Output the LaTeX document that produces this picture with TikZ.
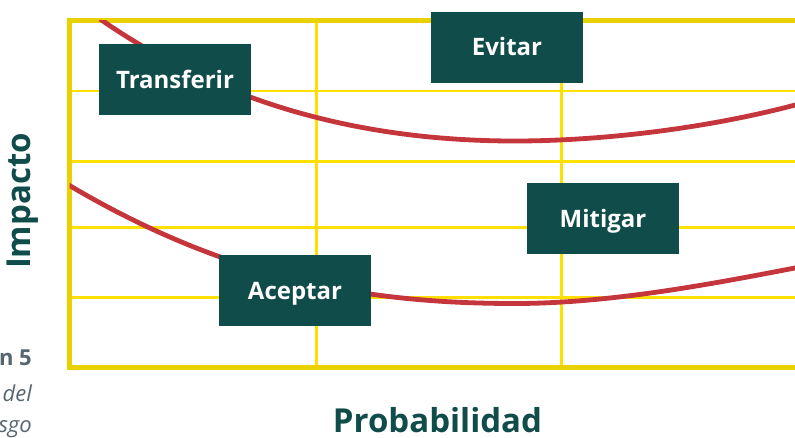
\documentclass[tikz,border=0pt]{standalone}
\usepackage{fontspec}
\setmainfont{Open Sans}
\definecolor{frameyellow}{HTML}{E9D100}
\definecolor{gridyellow}{HTML}{FDE000}
\definecolor{boxgreen}{HTML}{0F4C4A}
\definecolor{curvered}{HTML}{C4363C}
\definecolor{capgrey}{HTML}{56656F}
\tikzset{
  gridline/.style={gridyellow, line width=2.8pt},
  frameline/.style={frameyellow, line width=5pt},
  riskcurve/.style={curvered, line width=4.8pt},
  stratbox/.style={fill=boxgreen, text=white, font=\fontsize{24}{26}\selectfont\bfseries,
    minimum width=152pt, minimum height=71pt, inner sep=0pt, text height=17pt, text depth=0pt},
  axislabel/.style={text=boxgreen, font=\fontsize{33}{36}\selectfont\bfseries, inner sep=0pt},
  captext/.style={text=capgrey, font=\fontsize{22}{24}\selectfont, inner sep=0pt}
}
\begin{document}
\begin{tikzpicture}[x=1pt, y=-1pt]
\useasboundingbox (0,0) rectangle (795,437);
% inner grid
\foreach \yy in {91,161.5,227.5,297.5}
  \draw[gridline] (69.5,\yy) -- (795,\yy);
\foreach \xx in {316.5,561.5}
  \draw[gridline] (\xx,20.5) -- (\xx,367);
% frame
\draw[frameline] (795,20.5) -- (69.5,20.5) -- (69.5,367) -- (795,367);
% curves
\begin{scope}
\clip (69.5,20.5) rectangle (795,367);
\draw[riskcurve] (100,19) .. controls (198,87) and (330,141) .. (515,141)
  .. controls (600,141) and (707,128.8) .. (800,103.7);
\draw[riskcurve] (67,184) .. controls (230,281) and (370,303.5) .. (515,303.5)
  .. controls (610,303.5) and (712,284) .. (800,267);
\end{scope}
% boxes
\node[stratbox] (transferir) at (175,79.5) {Transferir};
\node[stratbox] (evitar) at (507,47) {Evitar};
\node[stratbox] (mitigar) at (603,218.5) {Mitigar};
\node[stratbox] (aceptar) at (295,290.5) {Aceptar};
% axis labels
\node[axislabel, rotate=90] (impacto) at (23,201) {Impacto};
\node[axislabel, anchor=base] (prob) at (437.5,432) {Probabilidad};
% caption fragments
\node[captext, anchor=base east, font=\fontsize{22}{24}\selectfont\bfseries] (cap1) at (32,365) {n 5};
\node[captext, anchor=base east, font=\fontsize{22}{24}\selectfont\itshape] (cap2) at (32,401) {del};
\node[captext, anchor=base east, font=\fontsize{22}{24}\selectfont\itshape] (cap3) at (32,432) {sgo};
\end{tikzpicture}
\end{document}
